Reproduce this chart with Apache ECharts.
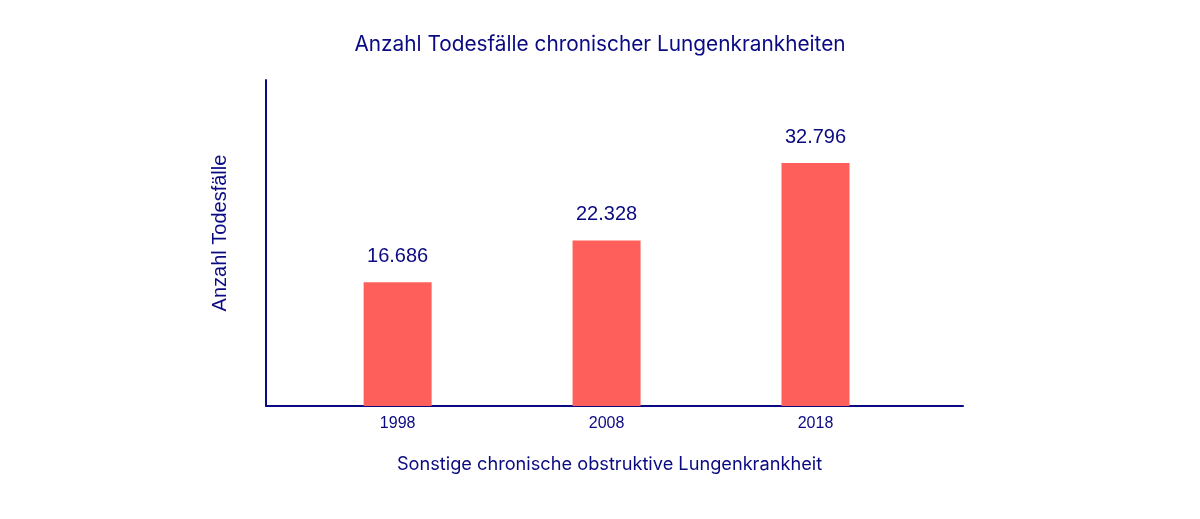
<!DOCTYPE html>
<html>
  <head>
    <meta charset="utf-8">
    <title>Anzahl Todesfälle chronischer Lungenkrankheiten</title>
    <script src="https://cdn.jsdelivr.net/npm/echarts@6/dist/echarts.min.js"></script>
    <style>
    html, body { margin: 0; padding: 0; background: #fff; }
    #chart { width: 1200px; height: 519px; }
    </style>
  </head>
  <body>
    <div id="chart"></div>
    <script type="text/javascript">
      // Daten
      var years = [1998, 2008, 2018];
      var deaths = [16686, 22328, 32796];
      var navy = '#0a0a82';

      var chart = echarts.init(document.getElementById('chart'));

      var option = {
        animation: false,
        title: {
          text: 'Anzahl Todesfälle chronischer Lungenkrankheiten',
          left: 'center',
          top: 29,
          textStyle: { color: navy, fontFamily: 'Inter', fontWeight: 'normal', fontSize: 20.8 }
        },
        grid: { left: 266, right: 237, top: 80, bottom: 113 },
        xAxis: {
          type: 'value',
          min: 1991.7,
          max: 2025.06,
          name: 'Sonstige chronische obstruktive Lungenkrankheit',
          nameLocation: 'middle',
          nameGap: 50,
          nameTextStyle: { color: navy, fontFamily: 'Inter', fontSize: 18.2, padding: [0, 10, 0, 0] },
          axisLine: { onZero: false, lineStyle: { color: navy, width: 2 } },
          axisTick: { show: false },
          splitLine: { show: false },
          axisLabel: {
            customValues: years,
            formatter: function (v) { return String(v); },
            color: navy,
            fontFamily: 'Liberation Sans',
            fontSize: 16,
            margin: 10
          }
        },
        yAxis: {
          type: 'value',
          min: 0,
          max: 44000,
          name: 'Anzahl Todesfälle',
          nameLocation: 'middle',
          nameGap: 36,
          nameTextStyle: { color: navy, fontFamily: 'Liberation Sans', fontSize: 20, padding: [0, 0, 0, 20] },
          axisLine: { show: true, lineStyle: { color: navy, width: 2 } },
          axisTick: { show: false },
          axisLabel: { show: false },
          splitLine: { show: false }
        },
        series: [{
          type: 'bar',
          barWidth: 68,
          data: years.map(function (y, i) { return [y, deaths[i]]; }),
          itemStyle: { color: '#ff5f5a' },
          label: {
            show: true,
            position: 'top',
            distance: 16,
            color: navy,
            fontFamily: 'Liberation Sans',
            fontSize: 20,
            formatter: function (p) {
              return p.value[1].toLocaleString('de-DE');
            }
          }
        }]
      };
      chart.setOption(option);
    </script>
  </body>
</html>
